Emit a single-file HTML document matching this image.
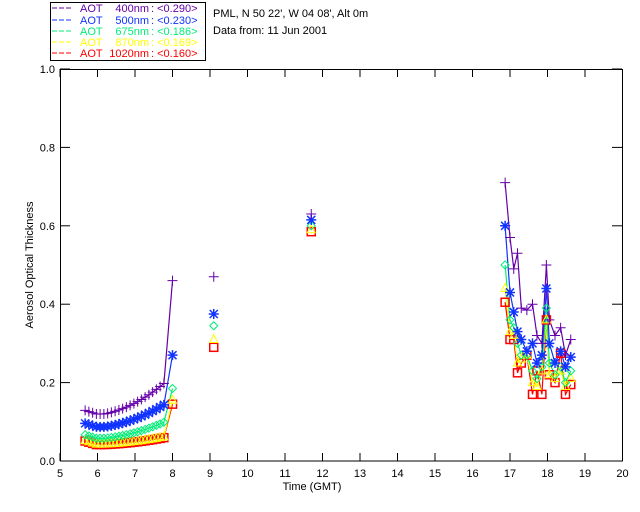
<!DOCTYPE html>
<html><head><style>body{margin:0;background:#fff}svg{display:block}text{font-family:"Liberation Sans",sans-serif;font-size:11px}</style></head>
<body>
<svg id="s" width="640" height="512" xmlns="http://www.w3.org/2000/svg">
<rect width="640" height="512" fill="#fff"/>
<rect x="50.5" y="2.5" width="155" height="58" fill="none" stroke="#000"/>
<g id="lg"></g>
<text x="213" y="17" fill="#000">PML, N 50 22', W 04 08', Alt 0m</text>
<text x="213" y="34" fill="#000">Data from: 11 Jun 2001</text>
<text x="312" y="490" fill="#000" text-anchor="middle">Time (GMT)</text>
<text transform="translate(33,265) rotate(-90)" fill="#000" text-anchor="middle" font-size="10">Aerosol Optical Thickness</text>
<g id="g"></g>
</svg>
<script>
var g=document.getElementById('g'),h='';
var cols=['#6600aa','#1133ff','#00ee77','#ffff00','#ff0000'];
var lab=[['400nm','0.290'],['500nm','0.230'],['675nm','0.186'],['870nm','0.169'],['1020nm','0.160']];
var ly=[12,24,35,46,57],lh='';
for(var k=0;k<5;k++){var c=cols[k],y=ly[k];
 lh+='<line x1="52" y1="'+(y-4)+'" x2="73" y2="'+(y-4)+'" stroke="'+c+'" stroke-dasharray="5,2"/>';
 lh+='<text x="80" y="'+y+'" fill="'+c+'">AOT</text><text x="149" y="'+y+'" fill="'+c+'" text-anchor="end">'+lab[k][0]+'</text>';
 lh+='<text x="151" y="'+y+'" fill="'+c+'">: &lt;'+lab[k][1]+'&gt;</text>';}
document.getElementById('lg').innerHTML=lh;
function X(t){return 60+(t-5)*37.5}function Y(v){return 461-v*392}
h+='<rect x="60.5" y="69.5" width="562" height="391.5" fill="none" stroke="#000"/>';
for(var i=5;i<=20;i++){var x=X(i);h+='<line x1="'+x+'" y1="461" x2="'+x+'" y2="453" stroke="#000"/><line x1="'+x+'" y1="69" x2="'+x+'" y2="77" stroke="#000"/><text x="'+x+'" y="477" text-anchor="middle">'+i+'</text>';}
for(var j=0;j<=5;j++){var y=Y(j*0.2);h+='<line x1="60" y1="'+y+'" x2="70" y2="'+y+'" stroke="#000"/><line x1="622" y1="'+y+'" x2="612" y2="'+y+'" stroke="#000"/><text x="55" y="'+(y+4)+'" text-anchor="end">'+(j*0.2).toFixed(1)+'</text>';}
function mk(k,x,y){var c=cols[k];
 if(k==0)return '<path d="M'+(x-5)+' '+y+'h10M'+x+' '+(y-5)+'v10" stroke="'+c+'" fill="none"/>';
 if(k==1)return '<path d="M'+(x-5)+' '+y+'h10M'+x+' '+(y-5)+'v10M'+(x-4)+' '+(y-4)+'l8 8M'+(x+4)+' '+(y-4)+'l-8 8" stroke="'+c+'" stroke-width="1.5" fill="none"/>';
 if(k==2)return '<path d="M'+x+' '+(y-4)+'l4 4l-4 4l-4 -4z" stroke="'+c+'" fill="none"/>';
 if(k==3)return '<path d="M'+x+' '+(y-5)+'l4 8h-8z" stroke="'+c+'" fill="none"/>';
 return '<rect x="'+(x-4)+'" y="'+(y-4)+'" width="8" height="8" stroke="'+c+'" fill="none" stroke-width="1.5"/>';}
var ser=[[],[],[],[],[]];
var mb=[[0.12,0.2,0.46],[0.087,0.145,0.27],[0.058,0.1,0.185],[0.043,0.062,0.155],[0.042,0.06,0.145]];
for(var i=0;i<22;i++){var t=5.67+i*0.1,f=Math.max(0,(t-6.2)/1.6);f=f*f*0.6+f*0.4;
 for(var k=0;k<5;k++){var v=mb[k][0]+(mb[k][1]-mb[k][0])*f+(i<3?0.003*(3-i):0);ser[k].push([t,v]);}}
for(var k=0;k<5;k++)ser[k].push([8.0,mb[k][2]]);
var ex=[16.87,17.0,17.1,17.2,17.3,17.45,17.6,17.72,17.85,17.97,18.05,18.2,18.35,18.48,18.62];
var ev=[[.71,.57,.49,.53,.39,.385,.40,.32,.30,.50,.36,.32,.34,.27,.31],
[.6,.43,.38,.33,.31,.28,.30,.25,.27,.44,.30,.25,.28,.24,.265],
[.5,.36,.34,.30,.27,.27,.23,.21,.24,.39,.25,.22,.24,.20,.23],
[.44,.33,.32,.25,.26,.27,.20,.19,.23,.36,.22,.21,.23,.19,.21],
[.405,.31,.31,.225,.25,.27,.17,.23,.17,.36,.22,.2,.275,.17,.195]];
for(var k=0;k<5;k++){ser[k].push(null);for(var i=0;i<ex.length;i++)ser[k].push([ex[i],ev[k][i]]);}
var iso=[[[9.1,0.47],[11.7,0.63]],[[9.1,0.375],[11.7,0.615]],[[9.1,0.345],[11.7,0.6]],[[9.1,0.31],[11.7,0.59]],[[9.1,0.29],[11.7,0.585]]];
for(var k=4;k>=0;k--){var d='',st=true;ser[k].forEach(function(p){if(!p){st=true;return;}d+=(st?'M':'L')+X(p[0]).toFixed(1)+' '+Y(p[1]).toFixed(1);st=false;});
 h+='<path d="'+d+'" stroke="'+cols[k]+'" fill="none" stroke-width="1.2"/>';}
for(var k=4;k>=0;k--){ser[k].forEach(function(p){if(p)h+=mk(k,X(p[0]),Y(p[1]));});iso[k].forEach(function(p){h+=mk(k,X(p[0]),Y(p[1]));});}
g.innerHTML=h;
</script>
</body></html>
